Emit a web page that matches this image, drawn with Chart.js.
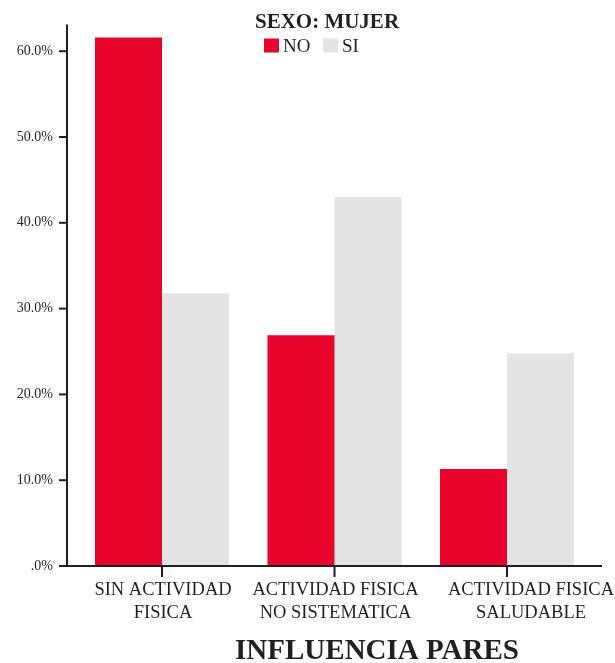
<!DOCTYPE html>
<html>
<head>
<meta charset="utf-8">
<script src="https://cdn.jsdelivr.net/npm/chart.js@4/dist/chart.umd.min.js"></script>
<style>
html,body{margin:0;padding:0;background:#fff;}
#wrap{width:615px;height:663px;}
</style>
</head>
<body>
<div id="wrap"><canvas id="c" width="615" height="663"></canvas></div>
<script>
// ---- data ----
const categories = [["SIN ACTIVIDAD","FISICA"],["ACTIVIDAD FISICA","NO SISTEMATICA"],["ACTIVIDAD FISICA","SALUDABLE"]];
const seriesNames = ["NO","SI"];
const valuesNO = [61.6, 26.9, 11.3];
const valuesSI = [31.8, 43.0, 24.8];
const yTicks = [0,10,20,30,40,50,60];
const chartTitle = "SEXO: MUJER";
const xTitle = "INFLUENCIA PARES";

const AXIS = '#231f20';
const SERIF = '"Liberation Serif","Times New Roman",serif';

const drawPlugin = {
  id: 'spssAxes',
  afterDraw(chart) {
    const ctx = chart.ctx;
    const xs = chart.scales.x, ys = chart.scales.y;
    const ca = chart.chartArea;
    const axisX = 67;
    const axisY = ys.getPixelForValue(0);
    ctx.save();
    ctx.strokeStyle = AXIS;
    ctx.lineWidth = 2;
    // y axis line
    ctx.beginPath();
    ctx.moveTo(axisX, ca.top);
    ctx.lineTo(axisX, axisY + 1);
    ctx.stroke();
    // x axis line
    ctx.beginPath();
    ctx.moveTo(axisX - 1, axisY);
    ctx.lineTo(602, axisY);
    ctx.stroke();
    // y tick marks
    yTicks.forEach(v => {
      const y = ys.getPixelForValue(v);
      ctx.beginPath();
      ctx.moveTo(59, y);
      ctx.lineTo(axisX, y);
      ctx.stroke();
    });
    // x tick marks + labels
    ctx.fillStyle = AXIS;
    ctx.font = '18.5px ' + SERIF;
    ctx.textAlign = 'center';
    ctx.textBaseline = 'alphabetic';
    categories.forEach((lab, i) => {
      const x = xs.getPixelForValue(i);
      ctx.beginPath();
      ctx.moveTo(x, axisY);
      ctx.lineTo(x, axisY + 11);
      ctx.stroke();
      const shift = (i === categories.length - 1) ? 24 : 1;
      lab.forEach((line, j) => {
        ctx.fillText(line, x + shift, 595 + j * 23);
      });
    });
    // x title
    ctx.font = 'bold 29px ' + SERIF;
    ctx.fillText(xTitle, 377, 659);
    // chart title
    ctx.font = 'bold 21px ' + SERIF;
    ctx.fillText(chartTitle, 327, 27.5);
    // legend
    const colors = [chart.data.datasets[0].backgroundColor, chart.data.datasets[1].backgroundColor];
    const legX = [264, 323];
    ctx.font = '19px ' + SERIF;
    ctx.textAlign = 'left';
    seriesNames.forEach((n, i) => {
      ctx.fillStyle = colors[i];
      ctx.fillRect(legX[i], 38.5, 15, 14);
      ctx.fillStyle = AXIS;
      ctx.fillText(n, legX[i] + 19, 51.5);
    });
    ctx.restore();
  }
};

new Chart(document.getElementById('c'), {
  type: 'bar',
  data: {
    labels: categories.map(c => c.join(' ')),
    datasets: [
      { label: seriesNames[0], data: valuesNO, backgroundColor: '#e8042b', borderWidth: 0 },
      { label: seriesNames[1], data: valuesSI, backgroundColor: '#e4e4e4', borderWidth: 0 }
    ]
  },
  options: {
    responsive: false,
    animation: false,
    devicePixelRatio: 1,
    categoryPercentage: 0.777,
    barPercentage: 1.0,
    layout: { padding: { left: 0, right: 21.75, top: 24.6, bottom: 97 } },
    plugins: { legend: { display: false }, title: { display: false }, tooltip: { enabled: false } },
    scales: {
      x: {
        display: false,
        offset: true,
        grid: { display: false }
      },
      y: {
        min: 0,
        max: 63.1,
        afterFit(scale) {
          scale.width = 75.75;
          scale.paddingTop = 0;
          scale.paddingBottom = 0;
        },
        afterBuildTicks(scale) { scale.ticks = yTicks.map(v => ({ value: v })); },
        border: { display: false },
        grid: { display: false, drawTicks: false },
        ticks: {
          padding: 22.75,
          color: AXIS,
          font: { family: SERIF, size: 14 },
          callback: v => (v === 0 ? '.0' : Number(v).toFixed(1)) + '%'
        }
      }
    }
  },
  plugins: [drawPlugin]
});
</script>
</body>
</html>
